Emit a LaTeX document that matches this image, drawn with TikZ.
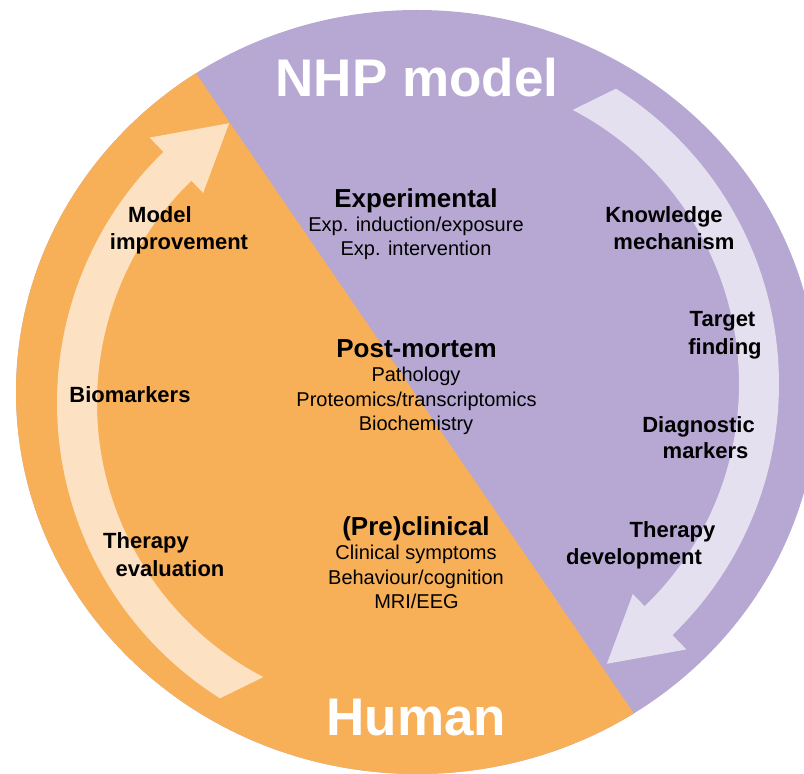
\documentclass[tikz,border=0pt]{standalone}
\usepackage{fontspec}
\setmainfont{Liberation Sans}
\definecolor{nhpcol}{RGB}{182,168,210}
\definecolor{humcol}{RGB}{247,175,88}
\definecolor{peachcol}{RGB}{252,226,195}
\definecolor{lavcol}{RGB}{229,224,240}
\newcommand\bandpath{(237.8:349pt) arc[start angle=237.8,end angle=134,radius=349pt]
  -- (134:369pt) -- (122.3:331pt) -- (134:292pt) -- (134:309pt)
  arc[start angle=134,end angle=242.5,radius=309pt] -- cycle}
\tikzset{
  bigtitle/.style={text=white,font=\fontsize{53}{60}\selectfont\bfseries,anchor=base,inner sep=0pt},
  sechead/.style={font=\fontsize{26}{30}\selectfont\bfseries,anchor=base,inner sep=0pt},
  itemtxt/.style={font=\fontsize{20}{24}\selectfont,anchor=base,inner sep=0pt},
  sidelbl/.style={font=\fontsize{22}{26}\selectfont\bfseries,anchor=base,inner sep=0pt},
}
\begin{document}
\begin{tikzpicture}[x=1pt,y=1pt]
\useasboundingbox (0,0) rectangle (804,774);
\clip (0,0) rectangle (804,774);
% disc
\fill[nhpcol] (417,382) ellipse[x radius=401pt,y radius=382pt];
\begin{scope}
  \clip (417,382) ellipse[x radius=401pt,y radius=382pt];
  \fill[humcol] (26.5,948.5) -- (840.5,-241.5) -- (-100,-300) -- (-100,1000) -- cycle;
\end{scope}
% cycle arrows
\begin{scope}[shift={(406,371)}]
  \fill[peachcol] \bandpath;
\end{scope}
\begin{scope}[shift={(430,390)},rotate=180]
  \fill[lavcol] \bandpath;
\end{scope}
% titles
\node[bigtitle] (nhp) at (417,677) {NHP model};
\node[bigtitle] (human) at (416.5,38) {Human};
% centre column
\node[sechead] (exph) at (416,566) {Experimental};
\node[itemtxt] (exp1) at (416,542) {Exp. induction/exposure};
\node[itemtxt] (exp2) at (416,518) {Exp. intervention};
\node[sechead] (pmh) at (416.5,416) {Post-mortem};
\node[itemtxt] (pm1) at (416,392) {Pathology};
\node[itemtxt] (pm2) at (416.5,367) {Proteomics/transcriptomics};
\node[itemtxt] (pm3) at (416,343) {Biochemistry};
\node[sechead] (pch) at (416,238) {(Pre)clinical};
\node[itemtxt] (pc1) at (416,214) {Clinical symptoms};
\node[itemtxt] (pc2) at (416,189) {Behaviour/cognition};
\node[itemtxt] (pc3) at (416.5,165) {MRI/EEG};
% left labels
\node[sidelbl] (mod1) at (160,551) {Model};
\node[sidelbl] (mod2) at (179,524) {improvement};
\node[sidelbl] (bio) at (130,371) {Biomarkers};
\node[sidelbl] (tev1) at (146,225) {Therapy};
\node[sidelbl] (tev2) at (170,197) {evaluation};
% right labels
\node[sidelbl] (kn1) at (664,551) {Knowledge};
\node[sidelbl] (kn2) at (674,524) {mechanism};
\node[sidelbl] (tf1) at (722.5,447) {Target};
\node[sidelbl] (tf2) at (725,419) {finding};
\node[sidelbl] (dm1) at (698.5,341) {Diagnostic};
\node[sidelbl] (dm2) at (705.5,315) {markers};
\node[sidelbl] (td1) at (672.5,236) {Therapy};
\node[sidelbl] (td2) at (634,209) {development};
\end{tikzpicture}
\end{document}
